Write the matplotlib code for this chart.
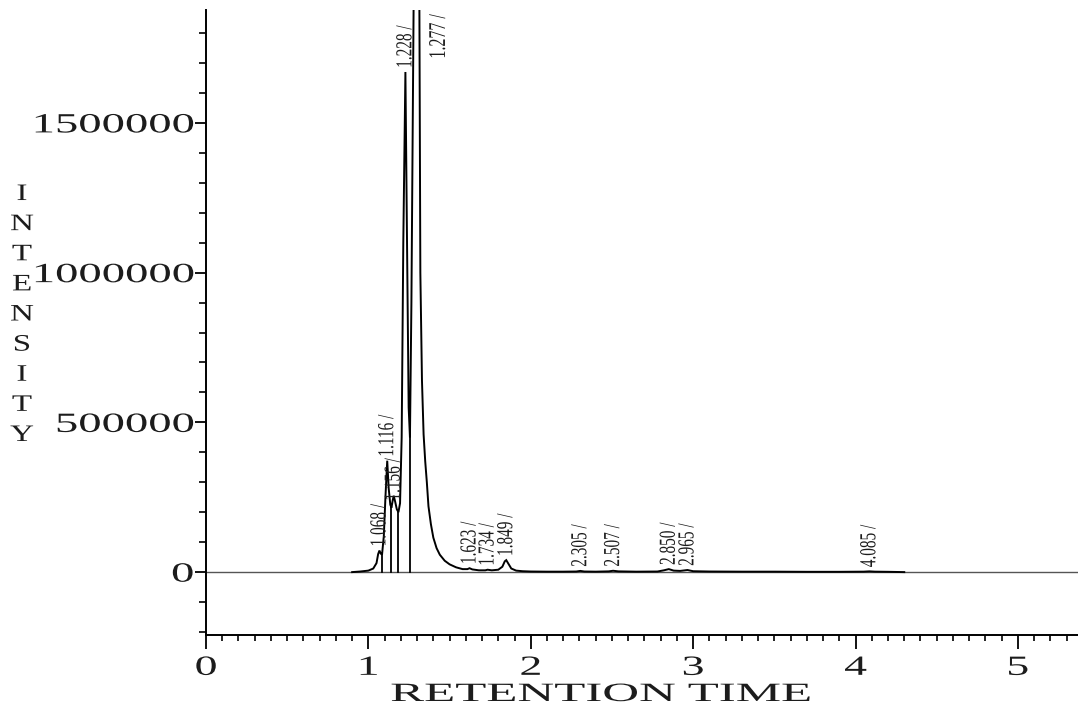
import numpy as np
import matplotlib
matplotlib.use("Agg")
import matplotlib.pyplot as plt
from matplotlib.patheffects import AbstractPathEffect
from matplotlib.transforms import Affine2D
from matplotlib.ticker import MultipleLocator, FixedLocator

# ---------------- data ----------------
rt_trace = [0.90, 0.95, 1.00, 1.03, 1.05, 1.060, 1.068, 1.076, 1.084, 1.095,
            1.105, 1.116, 1.125, 1.135, 1.142, 1.150, 1.156, 1.165, 1.175, 1.185,
            1.195, 1.205, 1.215, 1.228, 1.238, 1.248, 1.256, 1.265, 1.280, 1.300,
            1.312, 1.320, 1.330, 1.340, 1.350, 1.360, 1.370, 1.385, 1.400, 1.420,
            1.440, 1.470, 1.500, 1.540, 1.580, 1.610, 1.623, 1.640, 1.680, 1.720,
            1.734, 1.760, 1.800, 1.825, 1.840, 1.849, 1.860, 1.880, 1.910, 1.950,
            2.000, 2.100, 2.200, 2.280, 2.305, 2.330, 2.400, 2.480, 2.507, 2.540,
            2.650, 2.780, 2.820, 2.850, 2.880, 2.920, 2.965, 3.000, 3.100, 3.300,
            3.500, 3.700, 3.900, 4.050, 4.085, 4.120, 4.200, 4.300]
intensity_trace = [0, 2000, 5000, 12000, 30000, 60000, 72000, 62000, 58000, 120000,
                   250000, 372000, 280000, 225000, 215000, 240000, 255000, 235000, 210000, 200000,
                   230000, 450000, 1100000, 1670000, 1100000, 550000, 450000, 900000, 2000000, 2600000,
                   2200000, 1000000, 640000, 460000, 370000, 300000, 220000, 160000, 115000, 80000,
                   58000, 38000, 26000, 16000, 10000, 10000, 13000, 9000, 6000, 6000,
                   8000, 6000, 8000, 18000, 36000, 40000, 30000, 12000, 5000, 3000,
                   2000, 1500, 1500, 2000, 4000, 2000, 1500, 2500, 4500, 2500,
                   1500, 2000, 6000, 10000, 5000, 4000, 7000, 3000, 2000, 1500,
                   1500, 1000, 1000, 1500, 2500, 1500, 1000, 0]

# integration drop lines (retention times)
drop_rt = [1.084, 1.142, 1.185, 1.256]

# labelled peaks: retention time and apex intensity
peak_rt = [1.068, 1.116, 1.156, 1.228, 1.277, 1.623, 1.734, 1.849,
           2.305, 2.507, 2.850, 2.965, 4.085]
peak_apex = [72000, 372000, 225000, 1670000, 2600000, 13000, 8000, 40000,
             4000, 4500, 10000, 7000, 2500]

x_ticks = [0, 1, 2, 3, 4, 5]
y_ticks = [0, 500000, 1000000, 1500000]
x_label = "RETENTION TIME"
y_label = "INTENSITY"


# ---------------- helper: stretch glyphs (image is horizontally stretched) ---
class Stretch(AbstractPathEffect):
    def __init__(self, sx=1.0, sy=1.0, anchor="left"):
        super().__init__()
        self.sx, self.sy, self.anchor = sx, sy, anchor

    def draw_path(self, renderer, gc, tpath, affine, rgbFace=None):
        ext = tpath.get_extents()
        if self.anchor == "right":
            x0 = ext.x1
        elif self.anchor == "center":
            x0 = 0.5 * (ext.x0 + ext.x1)
        else:
            x0 = 0.0
        y0 = 0.5 * (ext.y0 + ext.y1)
        t = (Affine2D().translate(-x0, -y0).scale(self.sx, self.sy)
             .translate(x0, y0) + affine)
        renderer.draw_path(gc, tpath, t, rgbFace)


SERIF = ["Liberation Serif", "DejaVu Serif"]
TXT = "#1c1c1c"

fig = plt.figure(figsize=(10.78, 7.08), dpi=100)
ax = fig.add_axes([206 / 1078, 73 / 708, 872 / 1078, 625 / 708])
ax.set_xlim(0, 5.37)
ax.set_ylim(-210000, 1877000)

# zero line
ax.axhline(0, color="#555555", lw=1.0, zorder=1)
# chromatogram trace
ax.plot(rt_trace, intensity_trace, color="black", lw=1.4, zorder=3,
        solid_joinstyle="miter")
# drop lines
for r in drop_rt:
    h = np.interp(r, rt_trace, intensity_trace)
    ax.plot([r, r], [0, h], color="black", lw=1.3, zorder=3)

# peak labels
ytop = ax.get_ylim()[1]
for r, h in zip(peak_rt, peak_apex):
    s = f"{r:.3f} /"
    if h > ytop:
        t = ax.annotate(s, xy=(r, ytop), xytext=(18, -3), textcoords="offset points",
                        rotation=90, ha="center", va="top", fontsize=11.5,
                        family=SERIF, color=TXT, zorder=5)
    else:
        t = ax.annotate(s, xy=(r, h), xytext=(0, 3), textcoords="offset points",
                        rotation=90, ha="center", va="bottom", fontsize=11,
                        family=SERIF, color=TXT, zorder=5)
    t.set_path_effects([Stretch(sx=1.0, sy=1.5, anchor="left")])

# spines
for side in ("top", "right"):
    ax.spines[side].set_visible(False)
for side in ("left", "bottom"):
    ax.spines[side].set_linewidth(1.4)
    ax.spines[side].set_color("black")

ax.xaxis.set_major_locator(FixedLocator(x_ticks))
ax.xaxis.set_minor_locator(MultipleLocator(0.1))
ax.yaxis.set_major_locator(FixedLocator(y_ticks))
ax.yaxis.set_minor_locator(MultipleLocator(100000))
ax.set_xticklabels([str(v) for v in x_ticks])
ax.set_yticklabels([str(v) for v in y_ticks])

ax.tick_params(axis="x", which="major", direction="out", length=10, width=1.3,
               pad=5, labelsize=20, colors="black", labelcolor=TXT)
ax.tick_params(axis="x", which="minor", direction="out", length=4.5, width=1.2,
               colors="black")
ax.tick_params(axis="y", which="major", direction="out", length=8, width=1.3,
               pad=1, labelsize=20, colors="black", labelcolor=TXT)
ax.tick_params(axis="y", which="minor", direction="out", length=5, width=1.2,
               colors="black")

for lab in ax.get_xticklabels():
    lab.set_family(SERIF)
    lab.set_path_effects([Stretch(sx=1.65, anchor="center")])
for lab in ax.get_yticklabels():
    lab.set_family(SERIF)
    lab.set_path_effects([Stretch(sx=1.68, anchor="right")])

# axis titles
xl = fig.text(601 / 1078, (708 - 695) / 708, x_label, ha="center", va="center",
              fontsize=19, family=SERIF, color=TXT)
xl.set_path_effects([Stretch(sx=1.93, anchor="center")])

yl = fig.text(22 / 1078, (708 - 315) / 708, "\n".join(y_label), ha="center",
              va="center", multialignment="center", fontsize=17, family=SERIF,
              color=TXT, linespacing=1.57)
yl.set_path_effects([Stretch(sx=1.4, anchor="center")])

fig.savefig("out.png", dpi=100, facecolor="white")
